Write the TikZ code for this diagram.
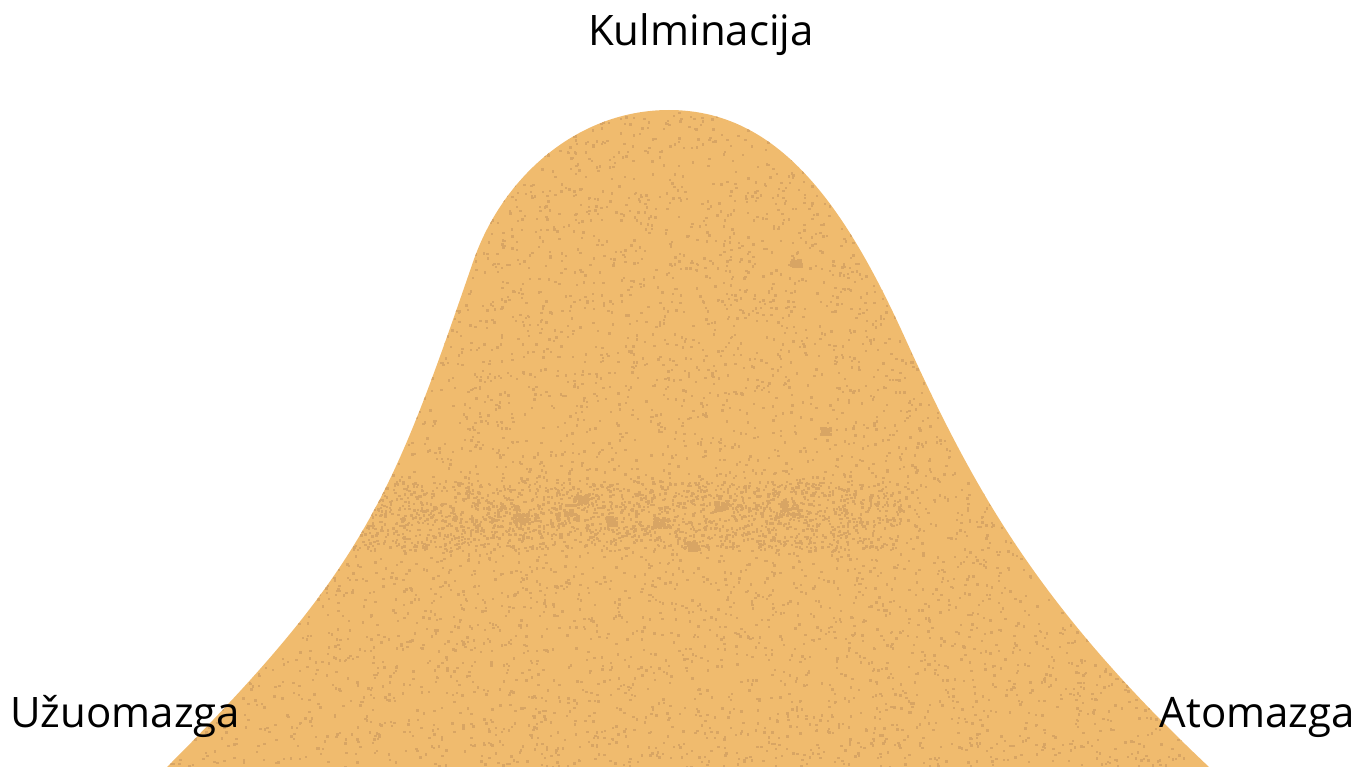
\documentclass[tikz,border=0pt]{standalone}
\usepackage{fontspec}
\setmainfont{Open Sans}
\begin{document}
\begin{tikzpicture}[x=1pt,y=-1pt,
  lbl/.style={font=\fontsize{42}{50}\selectfont, inner sep=0pt, text=black}]
\definecolor{bellc}{HTML}{F0BB6E}
\definecolor{dotc}{HTML}{D8A564}
\useasboundingbox (0,0) rectangle (1372,767);
\def\bell{(120,820) -- (167,767) .. controls (367,567) and (393,494) .. (473,262)
  .. controls (503,175) and (579,110) .. (669,110)
  .. controls (779,110) and (845,206) .. (905,338)
  .. controls (975,492) and (1039,607) .. (1209,767) -- (1260,820) -- cycle}
\path[fill=bellc] \bell;
\begin{scope}
\clip \bell;
\pgfmathsetseed{4321}
\foreach \i in {1,...,8000}{
  \pgfmathsetmacro{\px}{160+1050*rnd}
  \pgfmathsetmacro{\py}{110+660*rnd}
  \fill[dotc] (\px,\py) rectangle ++(2.4,2.4);
}
\foreach \i in {1,...,1600}{
  \pgfmathsetmacro{\px}{340+560*rnd}
  \pgfmathsetmacro{\py}{480+70*rnd}
  \fill[dotc] (\px,\py) rectangle ++(2.4,2.4);
}
\foreach \bx/\by/\r in {565/512/12, 520/518/8, 790/508/11, 660/522/7, 580/498/7, 825/430/5, 795/262/5, 690/545/6, 720/505/6, 610/520/6}{
  \foreach \j in {1,...,40}{
    \pgfmathsetmacro{\qx}{\bx+\r*rand}
    \pgfmathsetmacro{\qy}{\by+0.7*\r*rand}
    \fill[dotc] (\qx,\qy) rectangle ++(3,3);
  }
}
\end{scope}
\node[lbl, anchor=base] (kul) at (701,46) {Kulminacija};
\node[lbl, anchor=base west] (uzu) at (10,727) {Užuomazga};
\node[lbl, anchor=base east] (ato) at (1355,727) {Atomazga};
\end{tikzpicture}
\end{document}
